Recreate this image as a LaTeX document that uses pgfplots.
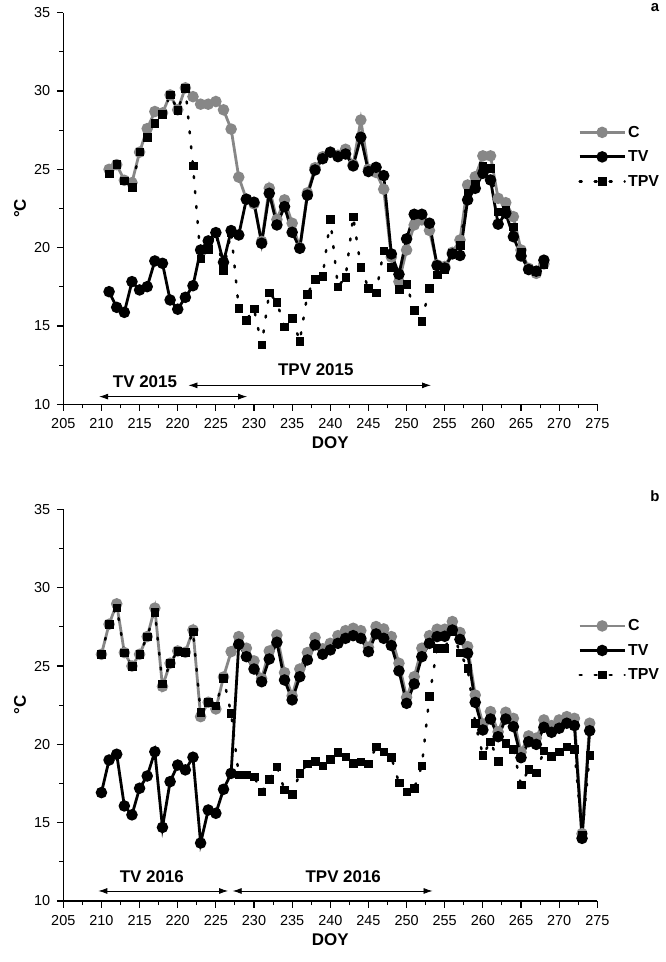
\documentclass[border=0pt]{standalone}
\usepackage{fontspec}
\setmainfont{Liberation Sans}
\usepackage{pgfplots}
\pgfplotsset{compat=1.18}
\usepackage{pgfplotstable}
\usetikzlibrary{arrows.meta}

\definecolor{cgray}{RGB}{135,135,135}

% panel a, 2015
\pgfplotstableread{
doy C TV TPV
211 25.0 17.19 24.71
212 25.3 16.19 25.33
213 24.3 15.87 24.28
214 24.15 17.83 23.86
215 26.1 17.30 26.13
216 27.6 17.51 27.03
217 28.69 19.15 27.94
218 28.6 19.0 28.52
219 29.75 16.66 29.75
220 28.8 16.07 28.79
221 30.2 16.83 30.18
222 29.64 17.57 25.24
223 29.16 19.85 19.28
224 29.16 20.43 19.9
225 29.33 20.96 20.96
226 28.8 19.07 18.55
227 27.57 21.09 21.0
228 24.5 20.81 16.13
229 23.1 23.09 15.38
230 22.8 22.9 16.09
231 20.4 20.28 13.79
232 23.8 23.47 17.13
233 21.8 21.45 16.51
234 23.05 22.62 14.96
235 21.56 20.98 15.49
236 20.0 19.96 14.04
237 23.5 23.35 17.02
238 25.1 24.96 18.0
239 25.8 25.68 18.19
240 26.1 26.09 21.81
241 25.9 25.81 17.51
242 26.28 25.98 18.11
243 25.3 25.22 21.98
244 28.15 27.05 18.75
245 25.0 24.86 17.41
246 24.8 25.13 17.13
247 23.73 24.6 19.81
248 19.4 19.6 18.75
249 17.83 18.3 17.36
250 19.85 20.56 17.66
251 21.45 22.13 16.02
252 21.77 22.13 15.32
253 21.1 21.56 17.41
254 18.9 18.85 18.26
255 18.8 18.7 18.62
256 19.7 19.6 19.68
257 20.49 19.5 20.17
258 24.0 23.05 23.47
259 24.53 23.79 24.07
260 25.86 24.75 25.22
261 25.86 24.32 25.07
262 23.15 21.5 22.3
263 22.87 22.2 22.41
264 21.98 20.7 21.34
265 19.85 19.47 19.75
266 18.68 18.6 18.58
267 18.36 18.5 18.47
268 18.96 19.2 18.9
}\dataA

% panel b, 2016
\pgfplotstableread{
doy C TV TPV
210 25.75 16.92 25.75
211 27.67 19.0 27.67
212 28.97 19.37 28.73
213 25.86 16.07 25.86
214 25.0 15.5 25.0
215 25.75 17.2 25.75
216 26.88 17.98 26.88
217 28.7 19.53 28.44
218 23.7 14.7 23.86
219 25.18 17.62 25.18
220 25.96 18.68 25.96
221 25.88 18.37 25.88
222 27.3 19.18 27.2
223 21.77 13.7 22.05
224 22.69 15.81 22.69
225 22.26 15.6 22.47
226 24.3 17.13 24.22
227 25.92 18.15 21.98
228 26.88 26.39 18.05
229 26.14 25.6 18.05
230 25.33 24.81 17.94
231 24.2 24.0 16.98
232 25.96 25.45 17.77
233 26.98 26.52 18.58
234 24.58 24.11 17.09
235 23.1 22.84 16.81
236 24.81 24.32 18.15
237 25.86 25.39 18.75
238 26.82 26.35 18.94
239 26.1 25.75 18.64
240 26.45 26.03 19.05
241 26.94 26.45 19.5
242 27.26 26.77 19.22
243 27.41 26.94 18.79
244 27.26 26.77 18.9
245 26.2 25.92 18.75
246 27.52 27.05 19.85
247 27.37 26.77 19.53
248 26.88 26.31 19.18
249 25.18 24.69 17.55
250 23.0 22.62 16.98
251 24.32 23.86 17.2
252 26.14 25.6 18.64
253 26.94 26.45 23.09
254 27.35 26.88 26.14
255 27.35 26.9 26.14
256 27.84 27.3 27.2
257 27.14 26.7 25.86
258 26.24 25.82 24.86
259 23.15 22.68 21.35
260 21.3 20.92 19.32
261 22.09 21.62 20.17
262 20.8 20.49 18.94
263 22.05 21.62 20.07
264 21.66 21.13 19.69
265 19.5 19.15 17.41
266 20.54 20.17 18.41
267 20.4 20.0 18.19
268 21.56 21.09 19.6
269 21.2 20.77 19.26
270 21.56 21.03 19.53
271 21.77 21.35 19.85
272 21.66 21.2 19.69
273 14.3 14.0 14.2
274 21.35 20.87 19.32
}\dataB

\tikzset{
  twoarrow/.style={{Latex[length=9bp,width=6bp]}-{Latex[length=9bp,width=6bp]}, line width=0.8bp},
  note/.style={font=\bfseries\fontsize{17}{20}\selectfont},
}

\pgfplotsset{
  doyaxis/.style={
    scale only axis, width=534bp, height=391.6bp,
    xmin=205, xmax=275, ymin=10, ymax=35,
    axis x line=bottom, axis y line=left,
    axis line style={-, line width=1.2bp},
    xtick={205,210,...,275}, ytick={10,15,...,35},
    minor tick num=1,
    tick align=outside,
    major tick length=6.5bp, minor tick length=4bp,
    every tick/.style={black, line width=1.1bp},
    tick label style={font=\fontsize{14.5}{16}\selectfont},
    xticklabel style={yshift=-4bp},
    yticklabel style={xshift=-3bp},
    /pgf/number format/assume math mode=true,
    xlabel={DOY}, ylabel={°C},
    label style={font=\bfseries\fontsize{17}{20}\selectfont},
    xlabel style={at={(axis description cs:0.5,-0.099)}, anchor=center},
    ylabel style={at={(axis description cs:-0.081,0.5)}, anchor=center},
    clip=false,
    legend cell align=left,
    legend style={draw=none, fill=none, inner sep=0pt, anchor=west,
      font=\bfseries\fontsize{16}{18}\selectfont, row sep=8bp},
    legend image code/.code={\draw[mark repeat=2,mark phase=2,#1]
      plot coordinates {(0bp,0bp) (22.5bp,0bp) (45bp,0bp)};},
  },
  cline/.style={cgray, line width=2.8bp, mark=*, mark size=4.3bp,
    mark options={solid, fill=cgray, draw=cgray}},
  tvline/.style={black, line width=2.8bp, mark=*, mark size=4.3bp,
    mark options={solid, fill=black}},
  tpvline/.style={black, line width=2.5bp, dash pattern=on 2bp off 13bp, line cap=round,
    mark=square*, mark size=3.8bp, mark options={solid, fill=black, line width=0.5bp}},
}

\begin{document}
\begin{tikzpicture}
\useasboundingbox (-63.3bp,-557.7bp) rectangle (602.7bp,404.3bp);

% ---- a ----
\begin{axis}[doyaxis, at={(0,0)}, anchor=south west,
  legend style={at={(rel axis cs:0.964,0.632)}}]
  \addplot[cline] table[x=doy, y=C] {\dataA};
  \addlegendentry{C}
  \addplot[tvline] table[x=doy, y=TV] {\dataA};
  \addlegendentry{TV}
  \addplot[tpvline] table[x=doy, y=TPV] {\dataA};
  \addlegendentry{TPV}

  \draw[twoarrow] (axis cs:209.7,10.49) -- (axis cs:229.1,10.49);
  \draw[twoarrow] (axis cs:221.4,11.21) -- (axis cs:253.2,11.21);
  \node[note] at (axis cs:215.7,11.46) {TV 2015};
  \node[note] at (axis cs:238.1,12.2) {TPV 2015};
  \node[font=\bfseries\fontsize{15}{18}\selectfont] at (rel axis cs:1.108,1.012) {a};
\end{axis}

% ---- b ----
\begin{axis}[doyaxis, at={(0,-496.7bp)}, anchor=south west,
  legend style={at={(rel axis cs:0.964,0.640)}}]
  \addplot[cline] table[x=doy, y=C] {\dataB};
  \addlegendentry{C}
  \addplot[tvline] table[x=doy, y=TV] {\dataB};
  \addlegendentry{TV}
  \addplot[tpvline] table[x=doy, y=TPV] {\dataB};
  \addlegendentry{TPV}

  \draw[twoarrow] (axis cs:209.6,10.64) -- (axis cs:226.6,10.64);
  \draw[twoarrow] (axis cs:227.2,10.64) -- (axis cs:253.4,10.64);
  \node[note] at (axis cs:216.6,11.53) {TV 2016};
  \node[note] at (axis cs:241.7,11.53) {TPV 2016};
  \node[font=\bfseries\fontsize{15}{18}\selectfont] at (rel axis cs:1.108,1.034) {b};
\end{axis}
\end{tikzpicture}
\end{document}
